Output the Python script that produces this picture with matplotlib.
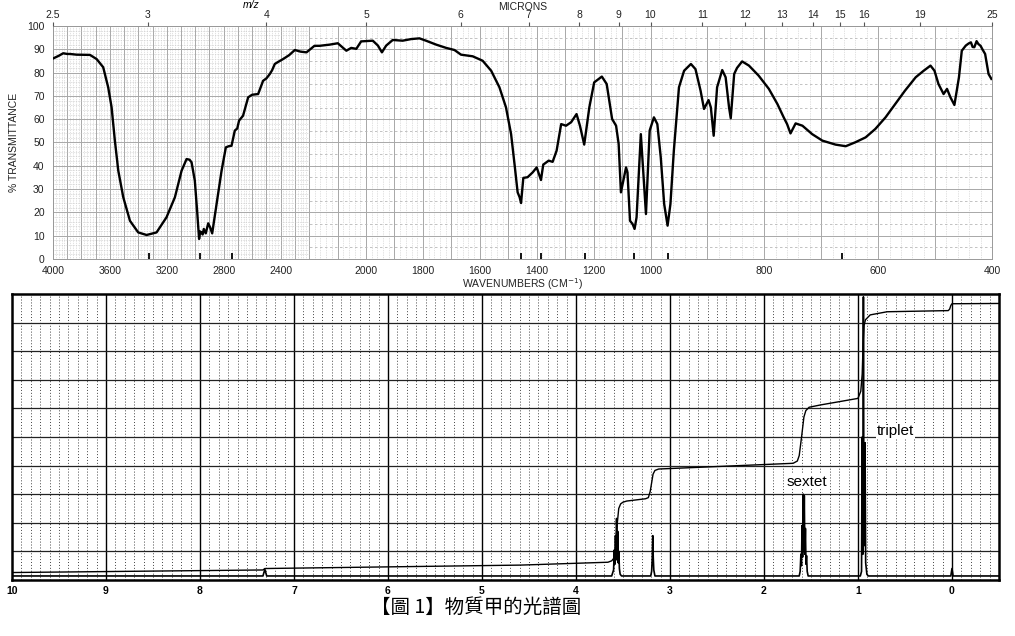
import matplotlib
matplotlib.use("Agg")
import matplotlib.pyplot as plt
import numpy as np

plt.rcParams["font.family"] = ["Liberation Sans", "DejaVu Sans"]

# ---- IR spectrum ----
IR_WAVENUMBER = [
    3998, 3960, 3928, 3900, 3881, 3834, 3740, 3693, 3647, 3612, 3588, 3565, 3541,
    3506, 3459, 3401, 3342, 3272, 3202, 3143, 3096, 3061, 3040, 3026, 3003, 2987,
    2973, 2965, 2956, 2948, 2940, 2926, 2909, 2895, 2881, 2850, 2815, 2785, 2765,
    2745, 2722, 2705, 2692, 2664, 2628, 2600, 2558, 2523, 2500, 2476, 2460, 2441,
    2420, 2383, 2340, 2300, 2260, 2218, 2181, 2163, 2128, 2099, 2069, 2052, 2034,
    2017, 1976, 1958, 1944, 1929, 1906, 1871, 1841, 1812, 1789, 1753, 1718, 1689,
    1666, 1625, 1590, 1560, 1531, 1508, 1490, 1478, 1467, 1460, 1455, 1447, 1432,
    1414, 1400, 1385, 1377, 1358, 1344, 1330, 1314, 1297, 1279, 1260, 1248, 1233,
    1215, 1198, 1171, 1154, 1135, 1121, 1112, 1104, 1086, 1081, 1072, 1063, 1056,
    1049, 1034, 1016, 1003, 994, 988, 982, 976, 970, 965, 959, 950, 941, 929, 921,
    912, 906, 898, 894, 889, 883, 874, 868, 862, 859, 853, 848, 839, 827, 810, 792,
    777, 766, 760, 754, 745, 733, 716, 698, 675, 657, 640, 622, 605, 587, 570, 553,
    534, 520, 508, 501, 494, 485, 479, 473, 466, 458, 453, 446, 441, 437, 434, 431,
    427, 424, 420, 417, 412, 406, 401,
]
IR_TRANSMITTANCE = [
    86.1, 87.2, 88.3, 88.0, 88.0, 87.7, 87.6, 85.8, 82.3, 73.7, 65.1, 50.8, 37.9,
    26.5, 16.4, 11.4, 10.3, 11.4, 17.9, 26.5, 37.9, 42.9, 42.6, 41.5, 33.6, 20.7,
    8.6, 11.8, 11.4, 10.5, 12.9, 11.0, 15.3, 13.5, 11.0, 23.6, 37.9, 47.9, 48.4,
    48.6, 55.1, 56.0, 59.4, 61.5, 69.4, 70.5, 70.8, 76.5, 77.5, 79.4, 81.0, 83.7,
    84.5, 85.8, 87.5, 89.7, 89.0, 88.7, 91.5, 91.5, 92.0, 92.6, 89.4, 90.6, 90.2,
    93.4, 93.7, 91.6, 88.7, 91.6, 94.0, 93.7, 94.4, 94.7, 93.7, 92.0, 90.6, 89.7,
    87.7, 87.0, 85.1, 80.8, 73.7, 65.1, 53.6, 40.8, 28.6, 26.5, 24.0, 34.8, 35.1,
    37.2, 39.3, 33.9, 40.5, 42.2, 41.7, 46.5, 57.9, 57.2, 58.7, 62.2, 57.2, 49.1,
    65.1, 75.8, 78.3, 75.1, 60.1, 57.2, 49.4, 28.6, 39.3, 37.2, 16.4, 15.0, 12.9,
    17.9, 53.6, 19.3, 55.1, 60.8, 57.9, 43.6, 23.6, 14.3, 23.6, 46.5, 73.7, 80.8,
    83.7, 81.5, 72.2, 64.4, 68.2, 65.1, 52.9, 73.7, 81.1, 78.0, 65.1, 60.4, 79.4,
    82.0, 84.8, 83.0, 78.7, 73.0, 66.5, 60.8, 57.9, 53.9, 58.2, 57.2, 53.6, 50.8,
    49.1, 48.4, 50.1, 52.2, 55.8, 60.8, 66.5, 72.2, 78.0, 80.8, 83.0, 80.8, 75.1,
    70.8, 73.0, 69.4, 66.1, 78.0, 89.4, 91.6, 92.5, 93.0, 91.0, 90.9, 93.5, 92.3,
    91.5, 90.1, 88.0, 79.4, 77.3,
]
IR_PEAK_MARKS = [3326, 2968, 2745, 1455, 1385, 1230, 1057, 969, 663]
IR_XTICKS = [4000, 3600, 3200, 2800, 2400, 2000, 1800, 1600, 1400, 1200, 1000, 800, 600, 400]
IR_YTICKS = [0, 10, 20, 30, 40, 50, 60, 70, 80, 90, 100]
MICRON_TICKS = [2.5, 3, 4, 5, 6, 7, 8, 9, 10, 11, 12, 13, 14, 15, 16, 19, 25]

# chart paper is piecewise linear in wavenumber (4000-2200, 2200-1000, 1000-400)
SCALE_W = [0, 400, 1000, 2200, 4000, 10000]
SCALE_P = [-1600, 0, 2400, 4800, 6600, 12600]

# ---- 1H NMR spectrum ----
NMR_PPM = [
    10.0, 7.33, 7.31, 7.29, 3.62, 3.60, 3.592, 3.586, 3.580, 3.574, 3.568, 3.562,
    3.556, 3.550, 3.544, 3.538, 3.530, 3.515, 3.205, 3.195, 3.188, 3.183, 3.178,
    3.172, 3.160, 1.625, 1.615, 1.607, 1.601, 1.595, 1.589, 1.583, 1.577, 1.571,
    1.565, 1.559, 1.553, 1.547, 1.540, 1.530, 0.975, 0.962, 0.955, 0.948, 0.942,
    0.936, 0.925, 0.918, 0.905, 0.890, 0.012, 0.0, -0.012, -0.5,
]
NMR_INTENSITY = [
    0.14, 0.14, 0.37, 0.14, 0.14, 0.35, 1.05, 0.55, 1.55, 0.70, 2.15, 0.75,
    1.70, 0.60, 1.00, 0.40, 0.20, 0.14, 0.14, 0.30, 0.80, 1.55, 0.80,
    0.35, 0.14, 0.14, 0.30, 0.90, 0.50, 1.90, 0.80, 3.00, 1.00, 2.95,
    0.90, 1.80, 0.55, 0.85, 0.30, 0.14, 0.14, 0.30, 5.00, 0.90, 9.90,
    1.20, 4.80, 0.60, 0.20, 0.14, 0.14, 0.40, 0.14, 0.14,
]
INTEGRAL_PPM = [
    10.0, 7.33, 7.31, 4.59, 3.66, 3.62, 3.60, 3.585, 3.57, 3.56, 3.545, 3.525,
    3.50, 3.46, 3.26, 3.23, 3.21, 3.195, 3.18, 3.16, 3.12, 1.69, 1.645, 1.625,
    1.60, 1.575, 1.555, 1.52, 1.40, 1.0, 0.97, 0.955, 0.945, 0.935, 0.92, 0.87,
    0.69, 0.04, 0.025, 0.012, 0.0, -0.5,
]
INTEGRAL_VALUE = [
    0.26, 0.35, 0.40, 0.52, 0.62, 0.67, 0.75, 0.85, 1.60, 2.00, 2.50, 2.66,
    2.72, 2.76, 2.84, 2.88, 3.10, 3.40, 3.70, 3.83, 3.88, 4.08, 4.16, 4.35,
    5.00, 5.70, 5.92, 6.04, 6.12, 6.35, 6.60, 7.20, 8.30, 8.90, 9.10, 9.27,
    9.38, 9.42, 9.47, 9.60, 9.66, 9.67,
]
NMR_XTICKS = [10, 9, 8, 7, 6, 5, 4, 3, 2, 1, 0]
NMR_LABELS = [("sextet", 1.54, 3.44), ("triplet", 0.60, 5.2)]


def _fwd(w):
    return np.interp(w, SCALE_W, SCALE_P)


def _inv(p):
    return np.interp(p, SCALE_P, SCALE_W)


def draw_ir(ax):
    ax.set_xscale("function", functions=(_fwd, _inv))
    ax.set_xlim(4000, 400)
    ax.set_ylim(0, 100)

    # chart paper grid
    for w in range(400, 4001, 20):
        if w % 100 == 0:
            ax.axvline(w, color="#a8a8a8", lw=0.7, zorder=1)
        else:
            ax.axvline(w, color="#c4c4c4", lw=0.5, ls=(0, (1, 1.5)), zorder=1)
    for t in range(0, 101, 2):
        if t % 10 == 0:
            ax.axhline(t, color="#a8a8a8", lw=0.7, zorder=1)
        else:
            ax.hlines(t, 2200, 4000, color="#c4c4c4", lw=0.5, ls=(0, (1, 1.5)), zorder=1)
    for t in range(5, 100, 10):
        ax.hlines(t, 400, 2200, color="#b8b8b8", lw=0.6, ls=(0, (3, 3)), zorder=1)

    ax.plot(IR_WAVENUMBER, IR_TRANSMITTANCE, color="black", lw=1.7, zorder=3)
    ax.vlines(IR_PEAK_MARKS, 0, 2.5, color="black", lw=1.3, zorder=3)

    ax.set_xticks(IR_XTICKS)
    ax.set_xticklabels([str(v) for v in IR_XTICKS])
    ax.xaxis.set_minor_locator(matplotlib.ticker.NullLocator())
    ax.set_yticks(IR_YTICKS)
    ax.tick_params(axis="both", length=0, labelsize=7.5, colors="#222222")
    ax.tick_params(axis="x", pad=5)
    ax.tick_params(axis="y", pad=6)
    ax.set_xlabel("WAVENUMBERS (CM$^{-1}$)", fontsize=7.5, labelpad=0, color="#222222")
    ax.set_ylabel("% TRANSMITTANCE", fontsize=7.5, labelpad=6, color="#222222")
    for sp in ax.spines.values():
        sp.set_color("#999999")
        sp.set_linewidth(0.7)

    top = ax.twiny()
    top.set_xscale("function", functions=(_fwd, _inv))
    top.set_xlim(4000, 400)
    top.set_xticks([10000.0 / m for m in MICRON_TICKS])
    top.set_xticklabels([f"{m:g}" for m in MICRON_TICKS])
    top.xaxis.set_minor_locator(matplotlib.ticker.NullLocator())
    top.tick_params(axis="x", direction="out", length=3, width=0.8, color="#555555",
                    labelsize=7.5, pad=1, labelcolor="#222222")
    top.set_xlabel("MICRONS", fontsize=7.5, labelpad=0.5, color="#222222")
    for sp in top.spines.values():
        sp.set_visible(False)


def draw_nmr(ax):
    ax.set_xlim(10, -0.5)
    ax.set_ylim(0, 10)

    for k in range(-4, 100):
        x = k / 10
        if k % 10 == 0:
            ax.axvline(x, color="black", lw=1.0, zorder=1)
        else:
            ax.axvline(x, color="#444444", lw=0.7, ls=(0, (1, 2)), zorder=1)
    for y in range(1, 10):
        ax.axhline(y, color="#222222", lw=0.9, zorder=1)

    ax.plot(NMR_PPM, NMR_INTENSITY, color="black", lw=1.2, zorder=3)
    ax.plot(INTEGRAL_PPM, INTEGRAL_VALUE, color="black", lw=1.0, zorder=3)

    for text, px, py in NMR_LABELS:
        ax.text(px, py, text, fontsize=11, ha="center", va="center", zorder=4,
                bbox=dict(facecolor="white", edgecolor="none", pad=0.3))

    ax.set_xticks(NMR_XTICKS)
    ax.set_xticklabels([str(v) for v in NMR_XTICKS])
    ax.set_yticks([])
    ax.tick_params(axis="x", length=0, pad=4, labelsize=7.5)
    for lab in ax.get_xticklabels():
        lab.set_fontweight("bold")
    for sp in ax.spines.values():
        sp.set_color("black")
        sp.set_linewidth(1.8)


fig = plt.figure(figsize=(10.15, 6.36), dpi=100)
ax_ir = fig.add_axes([0.0522, 0.5928, 0.9251, 0.3663])
ax_nmr = fig.add_axes([0.0118, 0.0881, 0.9724, 0.4496])

draw_ir(ax_ir)
draw_nmr(ax_nmr)

fig.text(251 / 1015, 1 - 5 / 636, "m/z", fontsize=7.5, style="italic", ha="center", va="center")
fig.text(476 / 1015, 1 - 607 / 636, "【圖 1】物質甲的光譜圖", fontsize=14,
         family=["Noto Sans CJK TC", "DejaVu Sans"], ha="center", va="center")

fig.savefig("out.png", dpi=100)
